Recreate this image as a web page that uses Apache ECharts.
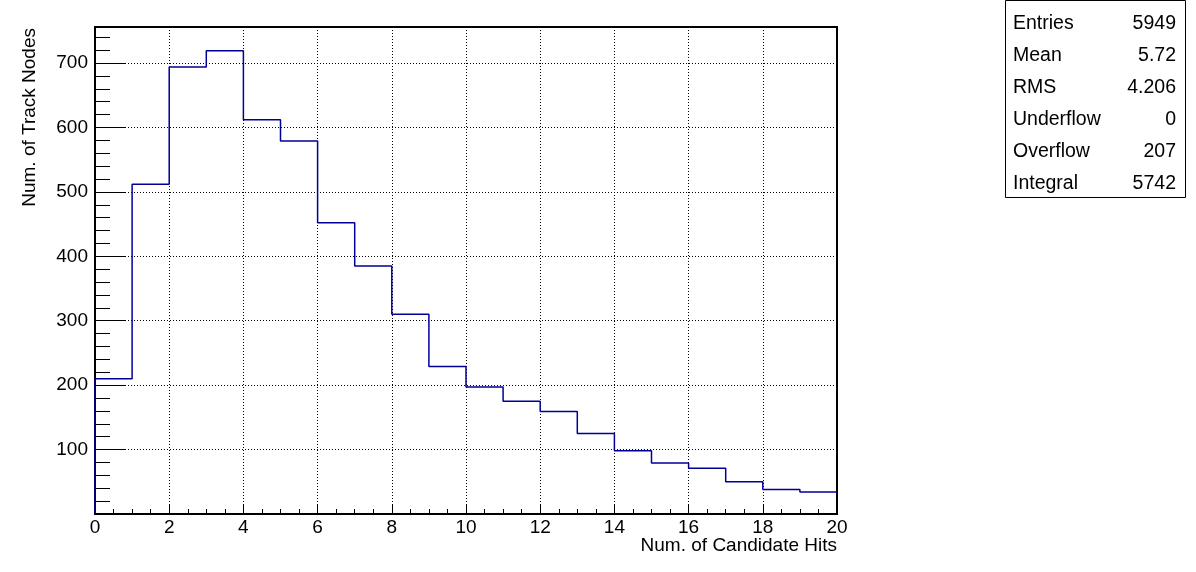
<!DOCTYPE html>
<html>
<head>
<meta charset="utf-8">
<script src="https://cdn.jsdelivr.net/npm/echarts@6/dist/echarts.min.js"></script>
<style>
html,body{margin:0;padding:0;background:#fff;}
#chart{width:1196px;height:572px;}
</style>
</head>
<body>
<div id="chart"></div>
<script>
// ---- data ----
const binEdges = [0,1,2,3,4,5,6,7,8,9,10,11,12,13,14,15,16,17,18,19,20];
const binCounts = [210,512,694,719,612,579,452,385,310,229,197,175,159,125,98,79,71,50,38,34];
const xTitle = 'Num. of Candidate Hits';
const yTitle = 'Num. of Track Nodes';
const statLabels = ['Entries','Mean','RMS','Underflow','Overflow','Integral'];
const statValues = ['5949','5.72','4.206','0','207','5742'];
const X_MIN = 0, X_MAX = 20, Y_MIN = 0, Y_MAX = 756;

// histogram outline points: vertical up at first edge, then horizontal/vertical steps
const pts = [[binEdges[0], 0]];
for (let i = 0; i < binCounts.length; i++) {
  pts.push([binEdges[i], binCounts[i]]);
  pts.push([binEdges[i + 1], binCounts[i]]);
}

const FONT = 'Liberation Sans, Arial, Helvetica, sans-serif';
const chart = echarts.init(document.getElementById('chart'), null, {renderer:'canvas'});

const statGraphics = [{
  type:'rect', shape:{x:1005.5, y:0.5, width:180, height:197},
  style:{fill:'#fff', stroke:'#000', lineWidth:1}, z:10
}];
statLabels.forEach((l, i) => {
  const yc = 23.3 + i * 32.1;
  statGraphics.push({type:'text', x:1013, y:yc, z:11,
    style:{text:l, fill:'#000', font:'19.5px ' + FONT, textAlign:'left', textVerticalAlign:'middle'}});
  statGraphics.push({type:'text', x:1176, y:yc, z:11,
    style:{text:statValues[i], fill:'#000', font:'19.5px ' + FONT, textAlign:'right', textVerticalAlign:'middle'}});
});

const option = {
  animation:false,
  backgroundColor:'#fff',
  grid:{left:95, top:27, right:359, bottom:58, show:true, borderColor:'#000', borderWidth:2, backgroundColor:'transparent'},
  xAxis:{
    type:'value', min:X_MIN, max:X_MAX, interval:2,
    axisLine:{show:true, lineStyle:{color:'#000', width:2}},
    axisTick:{show:true, inside:true, length:10, lineStyle:{color:'#000', width:1}},
    minorTick:{show:true, splitNumber:4, length:5, lineStyle:{color:'#000', width:1}},
    splitLine:{show:true, lineStyle:{color:'#000', width:1, type:[1,2]}},
    axisLabel:{color:'#000', fontSize:19, fontFamily:FONT, margin:4}
  },
  yAxis:[{
    type:'value', min:Y_MIN, max:Y_MAX, interval:100, position:'left',
    axisLine:{show:true, lineStyle:{color:'#000', width:2}},
    axisTick:{show:true, inside:true, length:31, lineStyle:{color:'#000', width:1}},
    splitLine:{show:true, lineStyle:{color:'#000', width:1, type:[1,2]}},
    axisLabel:{color:'#000', fontSize:19, fontFamily:FONT, margin:7,
      formatter:v => (v === 0 || v % 100 !== 0) ? '' : String(v)}
  },{
    type:'value', min:Y_MIN, max:Y_MAX, interval:20, position:'left', offset:0,
    axisLine:{show:false},
    axisTick:{show:true, inside:true, length:15, lineStyle:{color:'#000', width:1}},
    splitLine:{show:false},
    axisLabel:{show:false}
  }],
  series:[{
    type:'line', data:pts, showSymbol:false, symbol:'none',
    lineStyle:{color:'#000099', width:1.5}, xAxisIndex:0, yAxisIndex:0, clip:true, z:5
  }],
  graphic:[
    {type:'text', x:837, y:546, z:11,
      style:{text:xTitle, fill:'#000', font:'19px ' + FONT, textAlign:'right', textVerticalAlign:'middle'}},
    {type:'text', x:30, y:28, rotation:Math.PI/2, z:11,
      style:{text:yTitle, fill:'#000', font:'19px ' + FONT, textAlign:'right', textVerticalAlign:'middle'}}
  ].concat(statGraphics)
};
chart.setOption(option);
</script>
</body>
</html>
